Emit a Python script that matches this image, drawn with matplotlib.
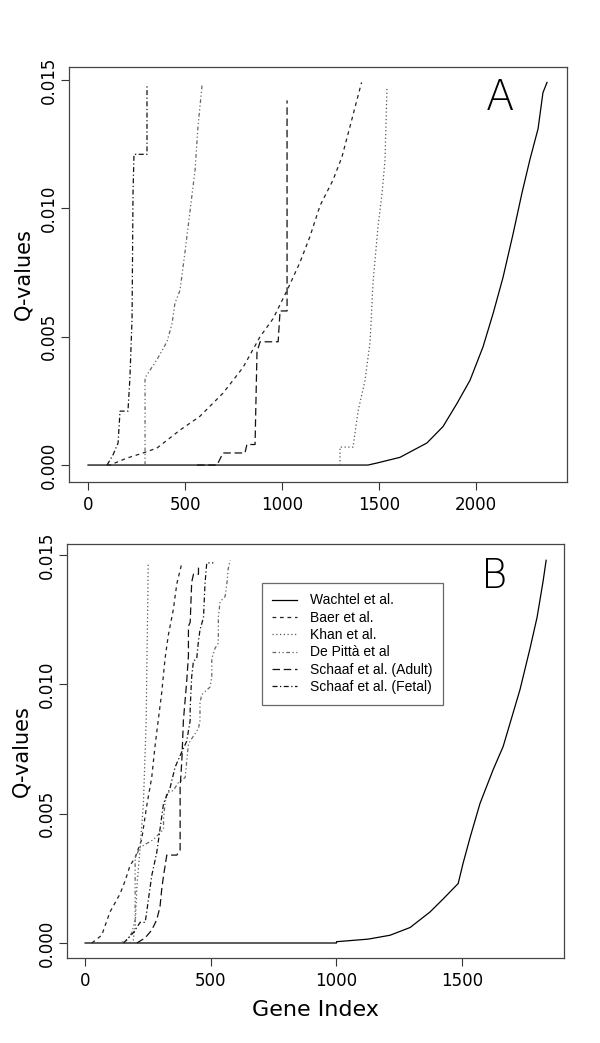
import matplotlib
matplotlib.use("Agg")
import matplotlib.pyplot as plt

plt.rcParams['font.family'] = ['DejaVu Sans']

# ---------------- Panel A data (gene index, q-value) ----------------
a_wachtel_x = [0, 1443, 1490, 1608, 1747, 1830, 1902, 1969, 2036, 2088, 2139, 2191, 2237, 2278, 2320, 2345, 2366]
a_wachtel_y = [0, 0, 0.00008, 0.0003, 0.00086, 0.0015, 0.0024, 0.0033, 0.0046, 0.0059, 0.0073, 0.009, 0.0106, 0.0119, 0.0131, 0.0145, 0.0149]

a_baer_x = [100, 113, 200, 284, 355, 474, 577, 696, 799, 887, 954, 1026, 1093, 1144, 1196, 1263, 1309, 1351, 1410]
a_baer_y = [0, 0, 0.00027, 0.00047, 0.00066, 0.00136, 0.0019, 0.0028, 0.0038, 0.005, 0.0057, 0.0068, 0.0079, 0.0089, 0.0101, 0.0111, 0.012, 0.0132, 0.0149]

a_khan_x = [1299, 1299, 1366, 1392, 1428, 1454, 1469, 1495, 1516, 1531, 1541]
a_khan_y = [0, 0.0007, 0.0007, 0.0021, 0.0033, 0.0048, 0.0071, 0.0093, 0.0106, 0.0119, 0.0147]

a_depitta_x = [294, 294, 355, 407, 433, 448, 474, 500, 526, 552, 567, 588]
a_depitta_y = [0, 0.0034, 0.0041, 0.0048, 0.0055, 0.0063, 0.0068, 0.0083, 0.0099, 0.0115, 0.0132, 0.0148]

a_adult_x = [562, 665, 696, 809, 819, 861, 871, 887, 980, 990, 1026, 1026]
a_adult_y = [0, 0, 0.00047, 0.00047, 0.0008, 0.0008, 0.0044, 0.0048, 0.0048, 0.006, 0.006, 0.0142]

a_fetal_x = [98, 129, 155, 165, 206, 216, 227, 232, 237, 304, 304]
a_fetal_y = [0, 0.0004, 0.00086, 0.0021, 0.0021, 0.0034, 0.0057, 0.0106, 0.0121, 0.0121, 0.0148]

# ---------------- Panel B data ----------------
b_wachtel_x = [0, 1000, 1000, 1126, 1213, 1293, 1372, 1424, 1484, 1504, 1532, 1571, 1623, 1663, 1730, 1770, 1798, 1822, 1834]
b_wachtel_y = [0, 0, 0.00005, 0.00015, 0.0003, 0.0006, 0.0012, 0.0017, 0.0023, 0.0031, 0.0041, 0.0054, 0.0067, 0.0076, 0.0098, 0.0114, 0.0126, 0.014, 0.0148]

b_baer_x = [27, 66, 99, 139, 159, 179, 199, 225, 245, 265, 278, 292, 305, 318, 331, 351, 365, 385]
b_baer_y = [0, 0.0003, 0.0012, 0.0019, 0.0024, 0.003, 0.0033, 0.004, 0.0053, 0.0064, 0.0076, 0.0087, 0.0097, 0.011, 0.0119, 0.0129, 0.0139, 0.0147]

b_khan_x = [180, 191, 199, 206, 219, 232, 243, 246, 249, 251]
b_khan_y = [0, 0.0001, 0.0006, 0.0022, 0.0037, 0.0054, 0.0086, 0.011, 0.013, 0.0147]

b_depitta_x = [139, 166, 186, 199, 199, 219, 272, 312, 312, 318, 325, 351, 371, 398, 404, 411, 424, 451, 457, 457, 464, 497, 504, 504, 517, 530, 530, 537, 557, 564, 569, 577]
b_depitta_y = [0, 0.0001, 0.0004, 0.0009, 0.0033, 0.0037, 0.004, 0.0044, 0.0048, 0.0054, 0.0058, 0.0059, 0.0062, 0.0064, 0.007, 0.0077, 0.0079, 0.0083, 0.0086, 0.0093, 0.0096, 0.0099, 0.0103, 0.011, 0.0114, 0.0116, 0.0126, 0.0132, 0.0134, 0.0139, 0.01446, 0.0148]

b_adult_x = [206, 239, 265, 285, 298, 305, 312, 325, 365, 378, 378, 385, 391, 404, 411, 411, 418, 424, 431, 451, 451]
b_adult_y = [0, 0.0002, 0.0005, 0.0009, 0.0014, 0.0021, 0.0026, 0.0034, 0.0034, 0.0036, 0.006, 0.0071, 0.0086, 0.0101, 0.0111, 0.01225, 0.0124, 0.01395, 0.01426, 0.01426, 0.01465]

b_fetal_x = [153, 192, 219, 239, 245, 265, 285, 298, 312, 338, 358, 385, 404, 418, 418, 424, 431, 444, 451, 457, 471, 477, 484, 510]
b_fetal_y = [0, 0.0004, 0.0008, 0.0008, 0.0012, 0.0026, 0.0035, 0.0044, 0.0054, 0.006, 0.0068, 0.0074, 0.0078, 0.0086, 0.0091, 0.0103, 0.0109, 0.011, 0.0117, 0.0121, 0.0126, 0.0139, 0.0147, 0.0147]

series_labels = ["Wachtel et al.", "Baer et al.", "Khan et al.", "De Pittà et al",
                 "Schaaf et al. (Adult)", "Schaaf et al. (Fetal)"]

x_ticks_a = [0, 500, 1000, 1500, 2000]
x_ticks_b = [0, 500, 1000, 1500]
y_ticks = [0.0, 0.005, 0.010, 0.015]
y_tick_labels = ["0.000", "0.005", "0.010", "0.015"]

styles = [
    dict(linestyle='-', color='black'),
    dict(linestyle=(0, (3, 3)), color='#222222'),
    dict(linestyle=(0, (1, 2)), color='#555555'),
    dict(linestyle=(0, (3, 2, 1, 2, 1, 2)), color='#666666'),
    dict(linestyle=(0, (6, 3)), color='#111111'),
    dict(linestyle=(0, (4, 2, 1, 2)), color='#111111'),
]
lw = 0.9

fig = plt.figure(figsize=(6.0, 10.43), dpi=100)
axA = fig.add_axes([69/600, 1-482/1043, 498/600, 415/1043])
axB = fig.add_axes([67/600, 1-958/1043, 497/600, 414/1043])

dataA = [(a_wachtel_x, a_wachtel_y), (a_baer_x, a_baer_y), (a_khan_x, a_khan_y),
         (a_depitta_x, a_depitta_y), (a_adult_x, a_adult_y), (a_fetal_x, a_fetal_y)]
dataB = [(b_wachtel_x, b_wachtel_y), (b_baer_x, b_baer_y), (b_khan_x, b_khan_y),
         (b_depitta_x, b_depitta_y), (b_adult_x, b_adult_y), (b_fetal_x, b_fetal_y)]

for (x, y), st, lab in zip(dataA, styles, series_labels):
    axA.plot(x, y, lw=lw, label=lab, **st)
for (x, y), st, lab in zip(dataB, styles, series_labels):
    axB.plot(x, y, lw=lw, label=lab, **st)

axA.set_xlim(-98, 2469)
axA.set_ylim(-0.00066, 0.0155)
axB.set_xlim(-72, 1905)
axB.set_ylim(-0.00058, 0.01543)

for ax, xt in ((axA, x_ticks_a), (axB, x_ticks_b)):
    ax.set_xticks(xt)
    ax.set_xticklabels([str(v) for v in xt], fontsize=12)
    ax.set_yticks(y_ticks)
    ax.set_yticklabels(y_tick_labels, fontsize=12, rotation=90, va='center')
    ax.tick_params(direction='out', length=6, width=0.8, color='#333333', pad=4)
    ax.tick_params(axis='y', pad=2)
    for sp in ax.spines.values():
        sp.set_color('#444444')
        sp.set_linewidth(0.9)
    ax.set_ylabel("Q-values", fontsize=15, labelpad=5)

fig.text(500/600, 1-97/1043, "A", fontsize=30, ha='center', va='center', fontweight='light')
fig.text(494/600, 1-577/1043, "B", fontsize=29, ha='center', va='center', fontweight='light')

axB.set_xlabel("Gene Index", fontsize=16, labelpad=7)

leg = axB.legend(loc='upper left', bbox_to_anchor=((262-67)/497, (958-583)/414),
                 frameon=True, fancybox=False, handlelength=1.75,
                 labelspacing=0.24, borderpad=0.75, handletextpad=0.95,
                 borderaxespad=0.0,
                 prop={'family': 'Liberation Sans', 'size': 10})
leg.get_frame().set_edgecolor('#444444')
leg.get_frame().set_linewidth(0.9)

fig.savefig("out.png", dpi=100)
